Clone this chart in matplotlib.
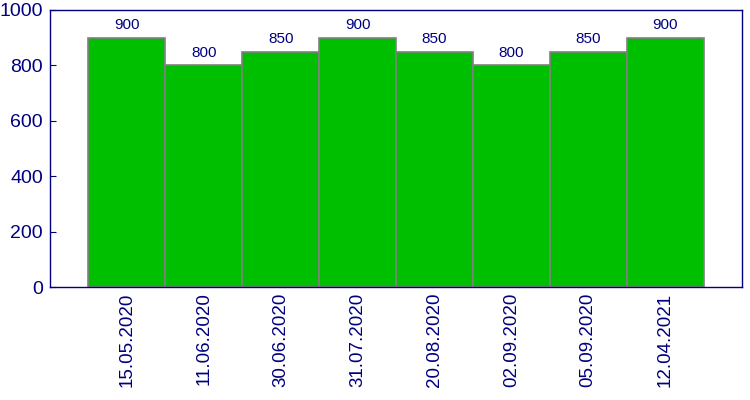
import matplotlib
matplotlib.use("Agg")
import matplotlib.pyplot as plt

dates = ["15.05.2020", "11.06.2020", "30.06.2020", "31.07.2020",
         "20.08.2020", "02.09.2020", "05.09.2020", "12.04.2021"]
values = [900, 800, 850, 900, 850, 800, 850, 900]
yticks = [0, 200, 400, 600, 800, 1000]

navy = "#000080"
plt.rcParams['font.family'] = ['Liberation Sans', 'DejaVu Sans']

fig = plt.figure(figsize=(7.5, 4), dpi=100)
ax = fig.add_axes([50/750, 1-287/400, 692/750, 277/400])

x = list(range(len(values)))
ax.bar(x, values, width=1.0, color="#00BF00", edgecolor="#808080", linewidth=1.2)
for xi, v in zip(x, values):
    ax.text(xi, v + 20, str(v), ha="center", va="bottom", color=navy, fontsize=11)

ax.set_xlim(-1, 8)
ax.set_ylim(0, 1000)
ax.set_yticks(yticks)
ax.set_yticklabels([str(t) for t in yticks], color=navy, fontsize=14)
ax.set_xticks(x)
ax.set_xticklabels(dates, rotation=90, color=navy, fontsize=13.5)
ax.tick_params(axis="y", direction="in", length=4, color=navy, pad=5)
ax.tick_params(axis="x", length=0, pad=4)
for s in ax.spines.values():
    s.set_color(navy)
    s.set_linewidth(1)

fig.savefig("out.png", dpi=100)
